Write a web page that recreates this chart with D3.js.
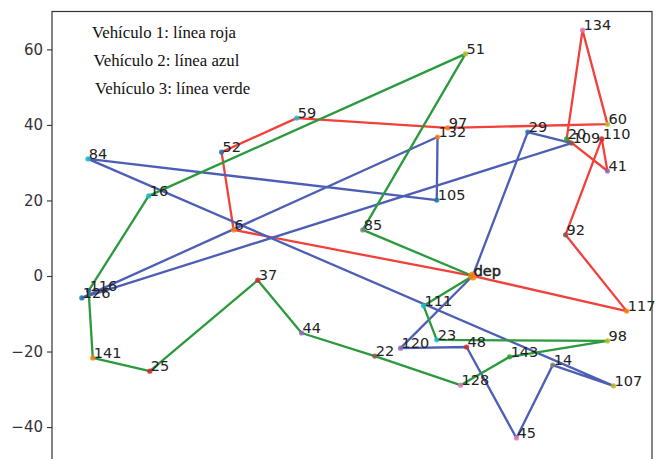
<!DOCTYPE html>
<html>
<head>
<meta charset="utf-8">
<script src="https://cdn.jsdelivr.net/npm/d3@7"></script>
<style>
    body { margin: 0; background: #fff; }
    svg { display: block; }
</style>
</head>
<body>
<svg id="chart"></svg>
<script>
// node ids and coordinates (depot at the origin)
const nodeIds = ["dep", "134", "60", "20", "109", "110", "41", "29", "92", "117", "98", "107",
    "14", "45", "143", "128", "48", "23", "120", "22", "111", "85", "105", "132", "97",
    "59", "52", "6", "51", "84", "16", "116", "126", "141", "25", "37", "44"];
const nodeX = [0, 29.1, 35.7, 24.9, 26.2, 34.2, 35.7, 14.6, 24.6, 40.8, 35.7, 37.3,
    21.2, 11.6, 9.8, -3.2, -1.6, -9.5, -19.1, -25.9, -13.0, -29.1, -9.5, -9.3, -6.6,
    -46.6, -66.5, -63.3, -1.9, -101.9, -85.8, -101.7, -103.5, -100.6, -85.5, -56.9, -45.3];
const nodeY = [0, 65.1, 40.2, 36.3, 35.2, 36.3, 27.8, 38.1, 10.9, -9.3, -17.2, -29.1,
    -23.6, -42.9, -21.4, -28.9, -18.8, -16.9, -19.1, -21.2, -7.9, 12.2, 20.1, 36.8, 39.2,
    41.8, 32.8, 12.2, 58.8, 31.0, 21.2, -3.9, -5.8, -21.7, -25.2, -1.1, -15.1];

// routes of the three vehicles
const route1 = ["dep", "6", "52", "59", "97", "60", "134", "20", "41", "110", "92", "117", "dep"];
const route2 = ["dep", "29", "109", "126", "132", "105", "84", "107", "14", "45", "48", "120", "dep"];
const route3 = ["dep", "85", "51", "16", "116", "141", "25", "37", "44", "22", "128", "143", "98", "23", "111", "dep"];

const legendLines = ["Vehículo 1: línea roja", "Vehículo 2: línea azul", "Vehículo 3: línea verde"];
const yTicks = [-40, -20, 0, 20, 40, 60];

// matplotlib colour cycle used for the node dots
const cycle = ["#1f77b4", "#ff7f0e", "#2ca02c", "#d62728", "#9467bd", "#8c564b", "#e377c2", "#7f7f7f", "#bcbd22", "#17becf"];
const dotCycle = [1, 6, 8, 2, 5, 3, 4, 0, 5, 1, 8, 8,
    7, 6, 2, 6, 3, 9, 4, 5, 9, 7, 0, 1, 1,
    9, 0, 1, 8, 9, 9, 0, 0, 1, 3, 3, 4];

const width = 658, height = 459;
const margin = {top: 11.5, right: 6, bottom: -3, left: 52};

const svg = d3.select("#chart").attr("width", width).attr("height", height);

const x = d3.scaleLinear().domain([-111.4, 47.5]).range([margin.left, width - margin.right]);
const y = d3.scaleLinear().domain([-49.25, 70.03]).range([height - margin.bottom, margin.top]);

const nodes = nodeIds.map((id, i) => ({id, x: nodeX[i], y: nodeY[i], c: cycle[dotCycle[i]]}));
const byId = new Map(nodes.map(d => [d.id, d]));

const line = d3.line().x(d => x(byId.get(d).x)).y(d => y(byId.get(d).y));

const routes = [
    {stops: route1, color: "#f2403a"},
    {stops: route2, color: "#4d5fb4"},
    {stops: route3, color: "#2a9a3c"}
];

svg.append("g").selectAll("path")
    .data(routes)
    .join("path")
    .attr("d", d => line(d.stops))
    .attr("fill", "none")
    .attr("stroke", d => d.color)
    .attr("stroke-width", 2.3)
    .attr("stroke-linejoin", "round");

svg.append("g").selectAll("circle")
    .data(nodes)
    .join("circle")
    .attr("cx", d => x(d.x))
    .attr("cy", d => y(d.y))
    .attr("r", d => d.id === "dep" ? 4.5 : 2.6)
    .attr("fill", d => d.c)
    .attr("opacity", 0.85);

svg.append("g").selectAll("text")
    .data(nodes)
    .join("text")
    .attr("x", d => x(d.x) + 1)
    .attr("y", d => y(d.y))
    .attr("font-family", "DejaVu Sans, sans-serif")
    .attr("font-size", 14.5)
    .attr("fill", "#222")
    .attr("stroke", d => d.id === "dep" ? "#222" : "none")
    .attr("stroke-width", 0.5)
    .text(d => d.id);

// frame
svg.append("rect")
    .attr("x", margin.left)
    .attr("y", margin.top)
    .attr("width", width - margin.right - margin.left)
    .attr("height", height - margin.bottom - margin.top)
    .attr("fill", "none")
    .attr("stroke", "#333")
    .attr("stroke-width", 1.2);

const yAxis = svg.append("g")
    .attr("transform", `translate(${margin.left},0)`)
    .call(d3.axisLeft(y).tickValues(yTicks).tickSize(5).tickPadding(4)
        .tickFormat(d => d3.format("d")(d).replace("-", "\u2212")));
yAxis.select(".domain").remove();
yAxis.selectAll("line").attr("stroke", "#333").attr("stroke-width", 1.1);
yAxis.selectAll("text")
    .attr("font-family", "DejaVu Sans, sans-serif")
    .attr("font-size", 15)
    .attr("fill", "#333");

svg.append("g").selectAll("text")
    .data(legendLines)
    .join("text")
    .attr("x", (d, i) => 92 + i * 1.5)
    .attr("y", (d, i) => 37.5 + i * 28)
    .attr("font-family", "Liberation Serif, Times New Roman, serif")
    .attr("font-size", 16.8)
    .attr("fill", "#111")
    .text(d => d);
</script>
</body>
</html>
